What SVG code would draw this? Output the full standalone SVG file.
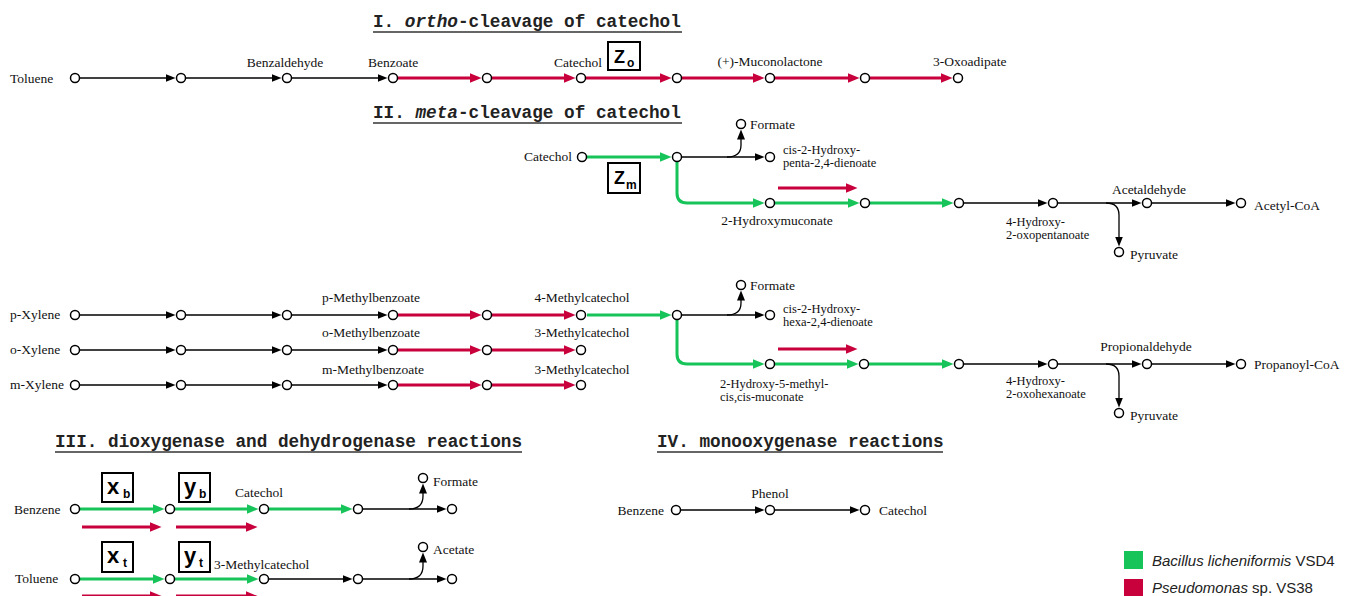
<svg xmlns="http://www.w3.org/2000/svg" width="1355" height="596" viewBox="0 0 1355 596">
<style>
.bg{fill:#fff}
.c{fill:#fff;stroke:#000;stroke-width:1.5}
.lb{fill:none;stroke:#000;stroke-width:1.3}
.lg{fill:none;stroke:#16c45a;stroke-width:3}
.lr{fill:none;stroke:#c8003c;stroke-width:3}
.t{font-family:"Liberation Serif","Times New Roman",serif;font-size:13.5px;fill:#111}
.t2{font-family:"Liberation Serif","Times New Roman",serif;font-size:12.5px;fill:#111}
.h{font-family:"Liberation Mono","Courier New",monospace;font-size:17.7px;font-weight:bold;fill:#222}
.ul{stroke:#333;stroke-width:1.5}
.box{fill:#fff;stroke:#000;stroke-width:2}
.bl{font-family:"Liberation Sans",Arial,sans-serif;font-weight:bold;fill:#000}
.lgd{font-family:"Liberation Sans",Arial,sans-serif;font-size:15px;fill:#222}
</style>
<defs>
<marker id="mb" markerUnits="userSpaceOnUse" markerWidth="10" markerHeight="8" refX="0.5" refY="4" orient="auto"><path d="M0,0 L10,4 L0,8 Z" fill="#000"/></marker>
<marker id="mg" markerUnits="userSpaceOnUse" markerWidth="12" markerHeight="10" refX="0.5" refY="5" orient="auto"><path d="M0,0 L12,5 L0,10 Z" fill="#16c45a"/></marker>
<marker id="mr" markerUnits="userSpaceOnUse" markerWidth="12" markerHeight="10" refX="0.5" refY="5" orient="auto"><path d="M0,0 L12,5 L0,10 Z" fill="#c8003c"/></marker>
</defs>
<rect class="bg" x="0" y="0" width="1355" height="596"/>

<g id="titles">
<text class="h" x="373" y="27">I. <tspan font-style="italic">ortho</tspan>-cleavage of catechol</text>
<line class="ul" x1="373" y1="32" x2="682" y2="32"/>
<text class="h" x="373" y="118">II. <tspan font-style="italic">meta</tspan>-cleavage of catechol</text>
<line class="ul" x1="373" y1="123" x2="682" y2="123"/>
<text class="h" x="55" y="447">III. dioxygenase and dehydrogenase reactions</text>
<line class="ul" x1="55" y1="452" x2="522" y2="452"/>
<text class="h" x="657" y="447">IV. monooxygenase reactions</text>
<line class="ul" x1="657" y1="452" x2="943" y2="452"/>
</g>

<g id="connectors">
<line class="lb" x1="80" y1="78" x2="166" y2="78" marker-end="url(#mb)"/>
<line class="lb" x1="186" y1="78" x2="272" y2="78" marker-end="url(#mb)"/>
<line class="lb" x1="292" y1="78" x2="378" y2="78" marker-end="url(#mb)"/>
<line class="lr" x1="398" y1="78" x2="470" y2="78" marker-end="url(#mr)"/>
<line class="lr" x1="492" y1="78" x2="564" y2="78" marker-end="url(#mr)"/>
<line class="lr" x1="586" y1="78" x2="660" y2="78" marker-end="url(#mr)"/>
<line class="lr" x1="682" y1="78" x2="753" y2="78" marker-end="url(#mr)"/>
<line class="lr" x1="775" y1="78" x2="848" y2="78" marker-end="url(#mr)"/>
<line class="lr" x1="870" y1="78" x2="941" y2="78" marker-end="url(#mr)"/>
<line class="lg" x1="587" y1="157" x2="660" y2="157" marker-end="url(#mg)"/>
<line class="lb" x1="682" y1="157" x2="755" y2="157" marker-end="url(#mb)"/>
<path class="lb" d="M727,157 Q741,157 741,145 L741,139" marker-end="url(#mb)"/>
<path class="lg" d="M677,162 L677,193 Q677,203 687,203 L753,203" marker-end="url(#mg)"/>
<line class="lr" x1="778" y1="188" x2="846" y2="188" marker-end="url(#mr)"/>
<line class="lg" x1="775" y1="203" x2="848" y2="203" marker-end="url(#mg)"/>
<line class="lg" x1="870" y1="203" x2="942" y2="203" marker-end="url(#mg)"/>
<line class="lb" x1="964" y1="203" x2="1038" y2="203" marker-end="url(#mb)"/>
<line class="lb" x1="1058" y1="203" x2="1132" y2="203" marker-end="url(#mb)"/>
<path class="lb" d="M1106,203 Q1119,203 1119,215 L1119,237" marker-end="url(#mb)"/>
<line class="lb" x1="1152" y1="203" x2="1226" y2="203" marker-end="url(#mb)"/>
<line class="lb" x1="80" y1="315" x2="166" y2="315" marker-end="url(#mb)"/>
<line class="lb" x1="186" y1="315" x2="272" y2="315" marker-end="url(#mb)"/>
<line class="lb" x1="292" y1="315" x2="378" y2="315" marker-end="url(#mb)"/>
<line class="lr" x1="398" y1="315" x2="470" y2="315" marker-end="url(#mr)"/>
<line class="lr" x1="492" y1="315" x2="564" y2="315" marker-end="url(#mr)"/>
<line class="lb" x1="80" y1="350" x2="166" y2="350" marker-end="url(#mb)"/>
<line class="lb" x1="186" y1="350" x2="272" y2="350" marker-end="url(#mb)"/>
<line class="lb" x1="292" y1="350" x2="378" y2="350" marker-end="url(#mb)"/>
<line class="lr" x1="398" y1="350" x2="470" y2="350" marker-end="url(#mr)"/>
<line class="lr" x1="492" y1="350" x2="564" y2="350" marker-end="url(#mr)"/>
<line class="lb" x1="80" y1="385" x2="166" y2="385" marker-end="url(#mb)"/>
<line class="lb" x1="186" y1="385" x2="272" y2="385" marker-end="url(#mb)"/>
<line class="lb" x1="292" y1="385" x2="378" y2="385" marker-end="url(#mb)"/>
<line class="lr" x1="398" y1="385" x2="470" y2="385" marker-end="url(#mr)"/>
<line class="lr" x1="492" y1="385" x2="564" y2="385" marker-end="url(#mr)"/>
<line class="lg" x1="587" y1="315" x2="660" y2="315" marker-end="url(#mg)"/>
<line class="lb" x1="682" y1="315" x2="755" y2="315" marker-end="url(#mb)"/>
<path class="lb" d="M727,315 Q741,315 741,303 L741,300" marker-end="url(#mb)"/>
<path class="lg" d="M677,320 L677,354 Q677,364 687,364 L753,364" marker-end="url(#mg)"/>
<line class="lr" x1="778" y1="349" x2="846" y2="349" marker-end="url(#mr)"/>
<line class="lg" x1="775" y1="364" x2="847" y2="364" marker-end="url(#mg)"/>
<line class="lg" x1="869" y1="364" x2="942" y2="364" marker-end="url(#mg)"/>
<line class="lb" x1="964" y1="364" x2="1038" y2="364" marker-end="url(#mb)"/>
<line class="lb" x1="1058" y1="364" x2="1132" y2="364" marker-end="url(#mb)"/>
<path class="lb" d="M1106,364 Q1119,364 1119,376 L1119,398" marker-end="url(#mb)"/>
<line class="lb" x1="1152" y1="364" x2="1226" y2="364" marker-end="url(#mb)"/>
<line class="lg" x1="80" y1="509" x2="153" y2="509" marker-end="url(#mg)"/>
<line class="lg" x1="175" y1="509" x2="247" y2="509" marker-end="url(#mg)"/>
<line class="lg" x1="269" y1="509" x2="341" y2="509" marker-end="url(#mg)"/>
<line class="lb" x1="363" y1="509" x2="437" y2="509" marker-end="url(#mb)"/>
<path class="lb" d="M409,509 Q423,509 423,496 L423,493" marker-end="url(#mb)"/>
<line class="lr" x1="82" y1="527" x2="150" y2="527" marker-end="url(#mr)"/>
<line class="lr" x1="176" y1="527" x2="246" y2="527" marker-end="url(#mr)"/>
<line class="lg" x1="80" y1="579" x2="153" y2="579" marker-end="url(#mg)"/>
<line class="lg" x1="175" y1="579" x2="247" y2="579" marker-end="url(#mg)"/>
<line class="lb" x1="269" y1="579" x2="343" y2="579" marker-end="url(#mb)"/>
<line class="lb" x1="363" y1="579" x2="437" y2="579" marker-end="url(#mb)"/>
<path class="lb" d="M409,579 Q423,579 423,566 L423,562" marker-end="url(#mb)"/>
<line class="lr" x1="82" y1="596" x2="150" y2="596" marker-end="url(#mr)"/>
<line class="lr" x1="176" y1="596" x2="246" y2="596" marker-end="url(#mr)"/>
<line class="lb" x1="681" y1="510" x2="755" y2="510" marker-end="url(#mb)"/>
<line class="lb" x1="775" y1="510" x2="850" y2="510" marker-end="url(#mb)"/>
</g>

<g id="ortho-pathway">
<circle class="c" cx="75" cy="78" r="4.5"/><text class="t" x="10" y="83">Toluene</text>
<circle class="c" cx="181" cy="78" r="4.5"/>
<circle class="c" cx="287" cy="78" r="4.5"/><text class="t" x="285" y="67" text-anchor="middle">Benzaldehyde</text>
<circle class="c" cx="393" cy="78" r="4.5"/><text class="t" x="368" y="67">Benzoate</text>
<circle class="c" cx="487" cy="78" r="4.5"/>
<circle class="c" cx="581" cy="78" r="4.5"/><text class="t" x="602" y="67" text-anchor="end">Catechol</text>
<circle class="c" cx="677" cy="78" r="4.5"/>
<circle class="c" cx="770" cy="78" r="4.5"/><text class="t" x="770" y="66" text-anchor="middle">(+)-Muconolactone</text>
<circle class="c" cx="865" cy="78" r="4.5"/>
<circle class="c" cx="958" cy="78" r="4.5"/><text class="t" x="933" y="66">3-Oxoadipate</text>
</g>
<g id="box-zo"><rect class="box" x="608" y="42" width="32" height="28"/><text class="bl" x="614" y="63" font-size="18">Z</text><text class="bl" x="627" y="67" font-size="12">o</text></g>

<g id="meta-pathway">
<circle class="c" cx="582" cy="157" r="4.5"/><text class="t" x="572" y="161" text-anchor="end">Catechol</text>
<circle class="c" cx="677" cy="157" r="4.5"/>
<circle class="c" cx="741" cy="124" r="4.5"/><text class="t" x="750" y="129">Formate</text>
<circle class="c" cx="770" cy="157" r="4.5"/><text class="t2" x="783" y="154">cis-2-Hydroxy-</text><text class="t2" x="783" y="167">penta-2,4-dienoate</text>
<circle class="c" cx="770" cy="203" r="4.5"/><text class="t" x="777" y="225" text-anchor="middle">2-Hydroxymuconate</text>
<circle class="c" cx="865" cy="203" r="4.5"/>
<circle class="c" cx="959" cy="203" r="4.5"/>
<circle class="c" cx="1053" cy="203" r="4.5"/><text class="t2" x="1006" y="226">4-Hydroxy-</text><text class="t2" x="1006" y="239">2-oxopentanoate</text>
<circle class="c" cx="1147" cy="203" r="4.5"/><text class="t" x="1149" y="194" text-anchor="middle">Acetaldehyde</text>
<circle class="c" cx="1119" cy="252" r="4.5"/><text class="t" x="1130" y="259">Pyruvate</text>
<circle class="c" cx="1241" cy="203" r="4.5"/><text class="t" x="1254" y="210">Acetyl-CoA</text>
</g>
<g id="box-zm"><rect class="box" x="608" y="163" width="32" height="30"/><text class="bl" x="614" y="184" font-size="18">Z</text><text class="bl" x="626" y="189" font-size="12">m</text></g>

<g id="xylene-pathways">
<circle class="c" cx="75" cy="315" r="4.5"/><text class="t" x="10" y="319">p-Xylene</text>
<circle class="c" cx="181" cy="315" r="4.5"/>
<circle class="c" cx="287" cy="315" r="4.5"/>
<circle class="c" cx="393" cy="315" r="4.5"/><text class="t" x="371" y="302" text-anchor="middle">p-Methylbenzoate</text>
<circle class="c" cx="487" cy="315" r="4.5"/>
<circle class="c" cx="581" cy="315" r="4.5"/><text class="t" x="582" y="302" text-anchor="middle">4-Methylcatechol</text>
<circle class="c" cx="75" cy="350" r="4.5"/><text class="t" x="10" y="354">o-Xylene</text>
<circle class="c" cx="181" cy="350" r="4.5"/>
<circle class="c" cx="287" cy="350" r="4.5"/>
<circle class="c" cx="393" cy="350" r="4.5"/><text class="t" x="371" y="337" text-anchor="middle">o-Methylbenzoate</text>
<circle class="c" cx="487" cy="350" r="4.5"/>
<circle class="c" cx="581" cy="350" r="4.5"/><text class="t" x="582" y="337" text-anchor="middle">3-Methylcatechol</text>
<circle class="c" cx="75" cy="385" r="4.5"/><text class="t" x="10" y="389">m-Xylene</text>
<circle class="c" cx="181" cy="385" r="4.5"/>
<circle class="c" cx="287" cy="385" r="4.5"/>
<circle class="c" cx="393" cy="385" r="4.5"/><text class="t" x="373" y="374" text-anchor="middle">m-Methylbenzoate</text>
<circle class="c" cx="487" cy="385" r="4.5"/>
<circle class="c" cx="581" cy="385" r="4.5"/><text class="t" x="582" y="374" text-anchor="middle">3-Methylcatechol</text>
<circle class="c" cx="677" cy="315" r="4.5"/>
<circle class="c" cx="741" cy="285" r="4.5"/><text class="t" x="750" y="290">Formate</text>
<circle class="c" cx="770" cy="315" r="4.5"/><text class="t2" x="783" y="313">cis-2-Hydroxy-</text><text class="t2" x="783" y="326">hexa-2,4-dienoate</text>
<circle class="c" cx="770" cy="364" r="4.5"/><text class="t2" x="720" y="388">2-Hydroxy-5-methyl-</text><text class="t2" x="720" y="401">cis,cis-muconate</text>
<circle class="c" cx="864" cy="364" r="4.5"/>
<circle class="c" cx="959" cy="364" r="4.5"/>
<circle class="c" cx="1053" cy="364" r="4.5"/><text class="t2" x="1006" y="385">4-Hydroxy-</text><text class="t2" x="1006" y="398">2-oxohexanoate</text>
<circle class="c" cx="1147" cy="364" r="4.5"/><text class="t" x="1146" y="351" text-anchor="middle">Propionaldehyde</text>
<circle class="c" cx="1119" cy="413" r="4.5"/><text class="t" x="1130" y="420">Pyruvate</text>
<circle class="c" cx="1241" cy="364" r="4.5"/><text class="t" x="1254" y="369">Propanoyl-CoA</text>
</g>

<g id="dioxygenase-benzene">
<circle class="c" cx="75" cy="509" r="4.5"/><text class="t" x="14" y="514">Benzene</text>
<circle class="c" cx="170" cy="509" r="4.5"/>
<circle class="c" cx="264" cy="509" r="4.5"/><text class="t" x="235" y="497">Catechol</text>
<circle class="c" cx="358" cy="509" r="4.5"/>
<circle class="c" cx="452" cy="509" r="4.5"/>
<circle class="c" cx="423" cy="478" r="4.5"/><text class="t" x="433" y="486">Formate</text>
</g>
<g id="box-xb"><rect class="box" x="102" y="473" width="31" height="29"/><text class="bl" x="107" y="494" font-size="22">x</text><text class="bl" x="123" y="498" font-size="12">b</text></g>
<g id="box-yb"><rect class="box" x="179" y="473" width="31" height="29"/><text class="bl" x="184" y="494" font-size="22">y</text><text class="bl" x="199" y="498" font-size="12">b</text></g>

<g id="dioxygenase-toluene">
<circle class="c" cx="75" cy="579" r="4.5"/><text class="t" x="15" y="583">Toluene</text>
<circle class="c" cx="170" cy="579" r="4.5"/>
<circle class="c" cx="264" cy="579" r="4.5"/><text class="t" x="214" y="569">3-Methylcatechol</text>
<circle class="c" cx="358" cy="579" r="4.5"/>
<circle class="c" cx="452" cy="579" r="4.5"/>
<circle class="c" cx="423" cy="547" r="4.5"/><text class="t" x="433" y="554">Acetate</text>
</g>
<g id="box-xt"><rect class="box" x="102" y="542" width="31" height="30"/><text class="bl" x="107" y="563" font-size="22">x</text><text class="bl" x="123" y="567" font-size="12">t</text></g>
<g id="box-yt"><rect class="box" x="179" y="542" width="31" height="30"/><text class="bl" x="184" y="563" font-size="22">y</text><text class="bl" x="199" y="567" font-size="12">t</text></g>

<g id="monooxygenase">
<circle class="c" cx="676" cy="510" r="4.5"/><text class="t" x="664" y="515" text-anchor="end">Benzene</text>
<circle class="c" cx="770" cy="510" r="4.5"/><text class="t" x="770" y="498" text-anchor="middle">Phenol</text>
<circle class="c" cx="865" cy="510" r="4.5"/><text class="t" x="879" y="515">Catechol</text>
</g>

<g id="legend">
<rect x="1124" y="551" width="19" height="18" fill="#16c45a"/>
<text class="lgd" x="1152" y="566"><tspan font-style="italic">Bacillus licheniformis</tspan> VSD4</text>
<rect x="1124" y="579" width="19" height="18" fill="#c8003c"/>
<text class="lgd" x="1152" y="593"><tspan font-style="italic">Pseudomonas</tspan> sp. VS38</text>
</g>
</svg>
